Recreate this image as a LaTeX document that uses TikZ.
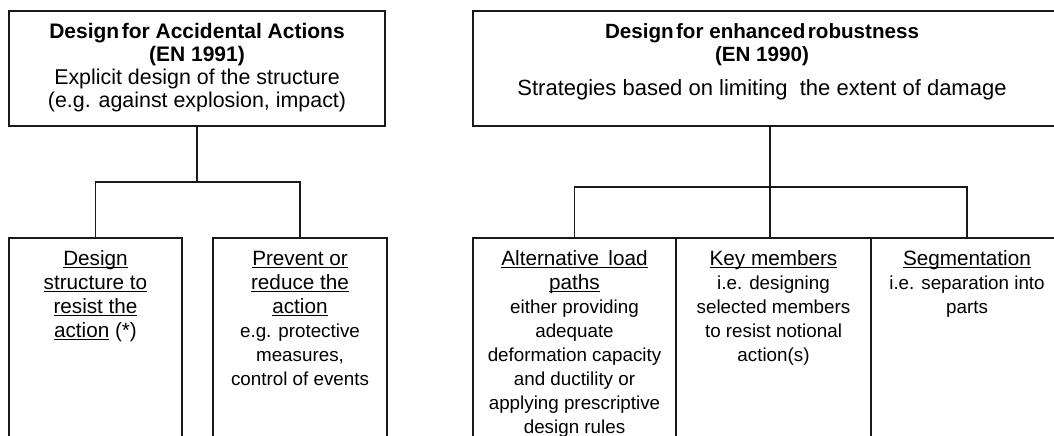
\documentclass[tikz,border=0pt]{standalone}
\usepackage{fontspec}
\setmainfont{Liberation Sans}
% underline with a rule that scales with the drawing
\newcommand\undl[1]{\leavevmode\setbox0=\hbox{#1}\rlap{\rule[-3.2pt]{\wd0}{1.3pt}}\box0\relax}
% underlined heading line of a lower box
\newcommand\hd[1]{{\fontsize{20.7}{24}\selectfont\undl{#1}}}
\begin{document}
\begin{tikzpicture}[x=1pt,y=-1pt,
  box/.style={draw=black!90, line width=1.7pt, inner sep=0pt, outer sep=0pt,
    rectangle, minimum width=#1},
  wire/.style={draw=black!90, line width=1.7pt},
  headtxt/.style={inner sep=0pt, outer sep=0pt, anchor=base, text=black,
    font=\fontsize{21.4}{22.7}\selectfont},
  subtxt/.style={inner sep=0pt, outer sep=0pt, anchor=base, text=black,
    font=\fontsize{18.8}{24}\selectfont}]
\path[use as bounding box, clip] (0,0) rectangle (1054,436);

% top boxes
\node[box=376, minimum height=115] (acc) at (197,68.5) {};
\node[box=594, minimum height=115] (rob) at (770,68.5) {};

% lower boxes (run past the lower edge)
\node[box=173, minimum height=232] (resist)  at (95.5,354) {};
\node[box=174, minimum height=232] (prevent) at (300,354) {};
\node[box=203, minimum height=232] (alt) at (574.5,354) {};
\node[box=195, minimum height=232] (key) at (773.5,354) {};
\node[box=192, minimum height=232] (seg) at (967,354) {};

% texts
\node[headtxt] (accT) at ([yshift=-28pt]acc.north) {\parbox[t]{370pt}{\centering
  {\fontsize{21}{22.7}\selectfont\bfseries Design\hspace{0.12em}for Accidental Actions}\\
  {\fontsize{21}{22.7}\selectfont\bfseries (EN 1991)}\\
  Explicit design of the structure\\
  (e.g. against explosion, impact)}};
\node[headtxt] (robT) at ([xshift=-8pt,yshift=-28pt]rob.north) {\parbox[t]{580pt}{\centering
  {\fontsize{20.6}{22.7}\selectfont\bfseries Design\hspace{0.12em}for enhanced\hspace{0.12em}robustness}\\
  {\fontsize{20.6}{22.7}\selectfont\bfseries (EN 1990)}\\[11.5pt]
  {\fontsize{22}{22.7}\selectfont Strategies based on limiting\ \ the extent of damage}}};

\node[subtxt] (resistT) at ([yshift=-27pt]resist.north) {\parbox[t]{168pt}{\centering
  \hd{Design}\\ \hd{structure to}\\ \hd{resist the}\\
  {\fontsize{20.7}{24}\selectfont\undl{action} (*)}}};
\node[subtxt] (preventT) at ([yshift=-27pt]prevent.north) {\parbox[t]{168pt}{\centering
  \hd{Prevent or}\\ \hd{reduce the}\\ \hd{action}\\
  e.g. protective\\ measures,\\ control of events}};
\node[subtxt] (altT) at ([yshift=-27pt]alt.north) {\parbox[t]{198pt}{\centering
  \hd{Alternative\hspace{0.45em}load}\\ \hd{paths}\\ either providing\\ adequate\\
  deformation capacity\\ and ductility or\\ applying prescriptive\\ design rules}};
\node[subtxt] (keyT) at ([yshift=-27pt]key.north) {\parbox[t]{190pt}{\centering
  \hd{Key members}\\ i.e. designing\\ selected members\\ to resist notional\\ action(s)}};
\node[subtxt] (segT) at ([yshift=-27pt]seg.north) {\parbox[t]{186pt}{\centering
  \hd{Segmentation}\\ i.e. separation into\\ parts}};

% connectors
\draw[wire] (acc.south) -- (acc.south |- 0,182);
\draw[wire] (resist.north) -- (resist.north |- 0,182) -| (prevent.north);
\draw[wire] (rob.south) -- (rob.south |- key.north);
\draw[wire] (alt.north) -- (alt.north |- 0,187) -| (seg.north);
\end{tikzpicture}
\end{document}
